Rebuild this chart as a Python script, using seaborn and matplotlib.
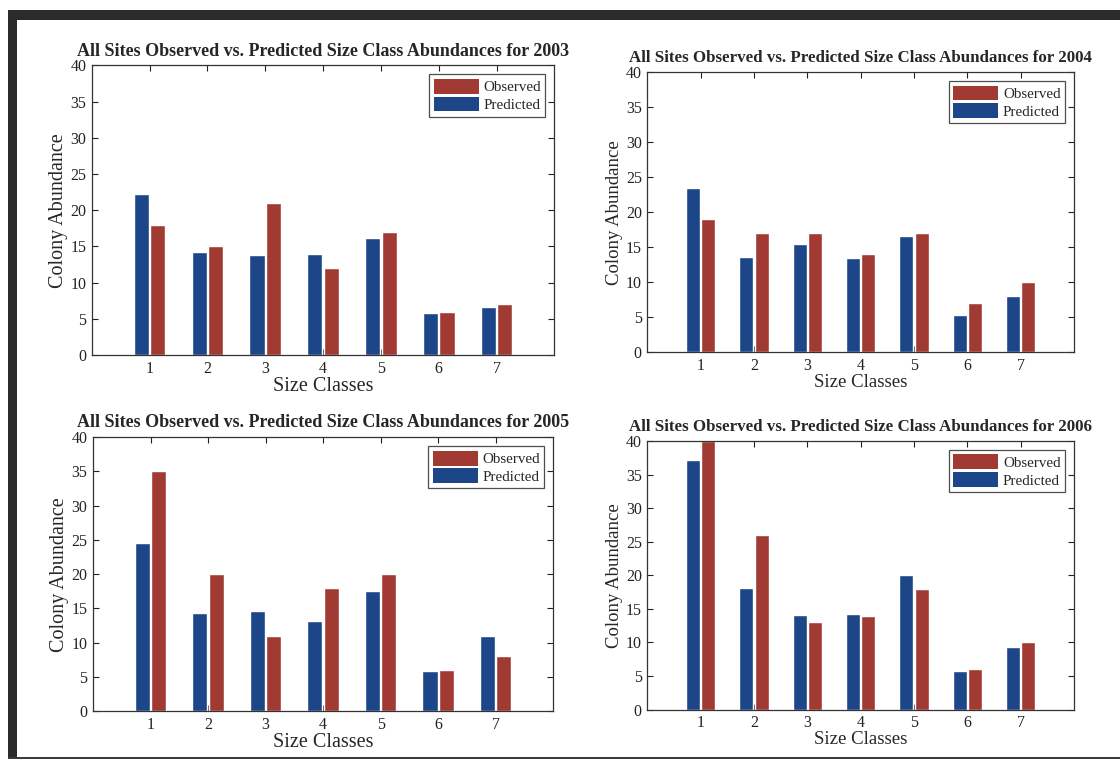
import matplotlib
matplotlib.use("Agg")
import matplotlib.pyplot as plt
from matplotlib.patches import Rectangle
import numpy as np
import pandas as pd
import seaborn as sns

# Size-class abundances, all sites, per year
size_classes = [1, 2, 3, 4, 5, 6, 7]
years = [2003, 2004, 2005, 2006]

predicted_2003 = [22.3, 14.3, 13.8, 13.9, 16.2, 5.8, 6.6]
observed_2003 = [18, 15, 21, 12, 17, 6, 7]

predicted_2004 = [23.5, 13.6, 15.5, 13.4, 16.6, 5.3, 8.0]
observed_2004 = [19, 17, 17, 14, 17, 7, 10]

predicted_2005 = [24.5, 14.3, 14.6, 13.2, 17.5, 5.9, 11.0]
observed_2005 = [35, 20, 11, 18, 20, 6, 8]

predicted_2006 = [37.2, 18.1, 14.1, 14.2, 20.0, 5.7, 9.3]
observed_2006 = [40, 26, 13, 14, 18, 6, 10]

y_ticks = [0, 5, 10, 15, 20, 25, 30, 35, 40]

predicted = {2003: predicted_2003, 2004: predicted_2004,
             2005: predicted_2005, 2006: predicted_2006}
observed = {2003: observed_2003, 2004: observed_2004,
            2005: observed_2005, 2006: observed_2006}

sns.set_style("ticks")
plt.rcParams["font.family"] = ["Liberation Serif", "DejaVu Serif"]

BLUE = "#1d4688"
RED = "#a23a34"
palette = {"Predicted": BLUE, "Observed": RED}

fig = plt.figure(figsize=(11.2, 7.59), dpi=100)
fig.patch.set_facecolor("white")

# panel rectangles [left, bottom, width, height], title size, label size
panels = {
    2003: ([0.082, 0.532, 0.413, 0.382], 13.0, 14.5),
    2004: ([0.578, 0.536, 0.381, 0.369], 12.2, 13.5),
    2005: ([0.083, 0.063, 0.411, 0.361], 13.0, 14.5),
    2006: ([0.578, 0.065, 0.381, 0.354], 12.2, 13.5),
}

for year in years:
    rect, tsize, lsize = panels[year]
    ax = fig.add_axes(rect)
    df = pd.DataFrame({
        "size_class": size_classes * 2,
        "abundance": predicted[year] + observed[year],
        "series": ["Predicted"] * len(size_classes) + ["Observed"] * len(size_classes),
    })
    sns.barplot(data=df, x="size_class", y="abundance", hue="series",
                hue_order=["Predicted", "Observed"], palette=palette,
                native_scale=True, width=0.57, gap=0.08, saturation=1,
                errorbar=None, legend=False, ax=ax)
    ax.set_xlim(0, 8)
    ax.set_ylim(0, 40)
    ax.set_xticks(size_classes)
    ax.set_xticklabels([str(c) for c in size_classes], fontsize=11.5)
    ax.set_yticks(y_ticks)
    ax.set_yticklabels([str(t) for t in y_ticks], fontsize=11.5)
    ax.tick_params(direction="in", length=4, width=0.8, top=True, right=True,
                   colors="#222222", pad=4)
    for s in ax.spines.values():
        s.set_visible(True)
        s.set_linewidth(0.9)
        s.set_color("#333333")
    ax.set_xlabel("Size Classes", fontsize=lsize, labelpad=0)
    ax.set_ylabel("Colony Abundance", fontsize=lsize, labelpad=2)
    ax.set_title(f"All Sites Observed vs. Predicted Size Class Abundances for {year}",
                 fontsize=tsize, fontweight="bold", pad=7)
    handles = [Rectangle((0, 0), 1, 1, facecolor=RED, edgecolor="none"),
               Rectangle((0, 0), 1, 1, facecolor=BLUE, edgecolor="none")]
    leg = ax.legend(handles, ["Observed", "Predicted"], loc="upper right",
                    fontsize=10.8, frameon=True, fancybox=False,
                    handlelength=3.0, handleheight=1.15, labelspacing=0.15,
                    handletextpad=0.3, borderpad=0.3, borderaxespad=0.6)
    leg.get_frame().set_edgecolor("#222222")
    leg.get_frame().set_linewidth(0.9)

# dark scan frame along the top, left and bottom edges
W, H = 1120, 759
fig.patches.append(Rectangle((8 / W, 1 - 20 / H), 1 - 8 / W, 10 / H,
                             transform=fig.transFigure, facecolor="#2b2b2b",
                             edgecolor="none", zorder=0))
fig.patches.append(Rectangle((8 / W, 0), 9 / W, 1 - 10 / H,
                             transform=fig.transFigure, facecolor="#2b2b2b",
                             edgecolor="none", zorder=0))
fig.patches.append(Rectangle((8 / W, 0), 1 - 8 / W, 2 / H,
                             transform=fig.transFigure, facecolor="#3a3a3a",
                             edgecolor="none", zorder=0))

fig.savefig("out.png", dpi=100)
